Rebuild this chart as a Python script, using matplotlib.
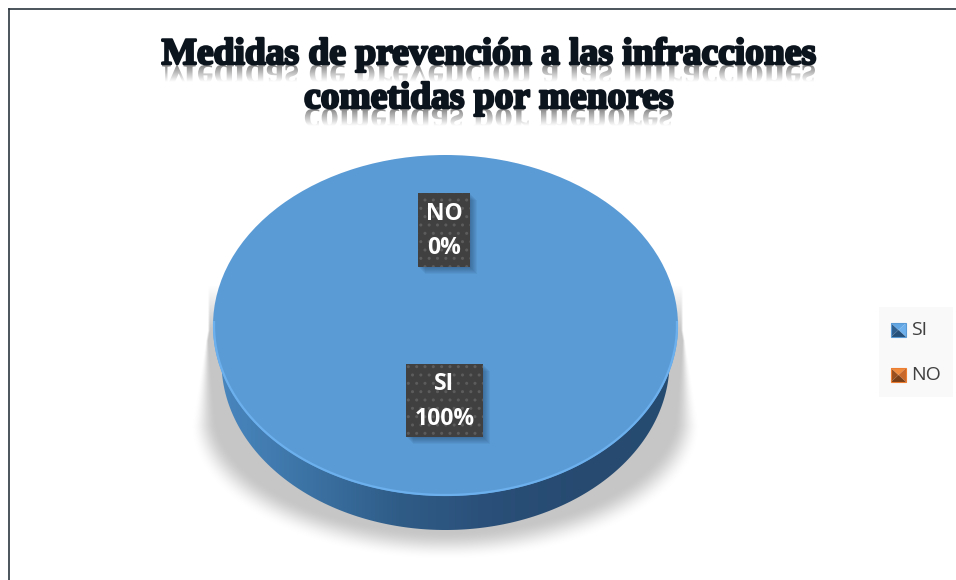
import numpy as np
import matplotlib
matplotlib.use('Agg')
import matplotlib.pyplot as plt
import matplotlib.patheffects as pe
from matplotlib.font_manager import FontProperties
from matplotlib.patches import Rectangle, Polygon, PathPatch
from matplotlib.textpath import TextPath
from matplotlib.transforms import Affine2D
from matplotlib.colors import LinearSegmentedColormap

title_lines = ['Medidas de prevención a las infracciones', 'cometidas por menores']
categories = ['SI', 'NO']
values = [100, 0]
colors = ['#5b9bd5', '#ed7d31']

W, H = 956, 580
fig = plt.figure(figsize=(W / 100, H / 100), dpi=100, facecolor='white')

# fondo en pixeles, y hacia abajo
bg = fig.add_axes([0, 0, 1, 1])
bg.set_xlim(0, W)
bg.set_ylim(H, 0)
bg.axis('off')

bg.plot([9, 9], [H, 9], color='#2c3640', lw=1.2)
bg.plot([9, W], [9, 9], color='#2c3640', lw=1.2)

# geometria del pastel
cx, cy = 445.5, 325.5
rx, ry = 232.5, 170.5

# sombra
xx, yy = np.meshgrid(np.arange(170, 720), np.arange(280, 570))
half = 238 + 16 * np.clip((yy - 330) / 95, 0, 1)
low = np.clip(yy - 425, 0, None) / 134
r = np.sqrt(((xx + 0.5 - cx) / half) ** 2 + low ** 2)
blur = 0.012 + 0.2 * np.clip((yy - 340) / 190, 0, 1)
a = np.clip((1 - r) / blur, 0, 1)
a = a * a * (3 - 2 * a)
a = a * np.clip((yy - 285) / 45, 0, 1)
shadow = np.zeros(a.shape + (4,))
shadow[..., :3] = 0.78
shadow[..., 3] = a
bg.imshow(shadow, extent=(170, 720, 570, 280), aspect='auto', zorder=1, interpolation='bilinear')
bg.set_xlim(0, W)
bg.set_ylim(H, 0)

# lateral del pastel
ang = np.linspace(0, np.pi, 200)
side_pts = np.c_[cx + 224 * np.cos(ang), 362 + 168 * np.sin(ang)]
side_cmap = LinearSegmentedColormap.from_list('side', ['#4a88c0', '#3c73a5', '#2f5c87', '#2a4f78', '#264a70', '#274c72'])
side = bg.imshow(np.linspace(0, 1, 256).reshape(1, -1), extent=(cx - rx, cx + rx, H, 0),
                 aspect='auto', cmap=side_cmap, zorder=2)
side.set_clip_path(Polygon(side_pts, closed=True, transform=bg.transData))
bg.set_xlim(0, W)
bg.set_ylim(H, 0)

# pastel
pie_ax = fig.add_axes([(cx - rx) / W, 1 - (cy + ry) / H, 2 * rx / W, 2 * ry / H])
pie_ax.pie(values, colors=colors, startangle=90, counterclock=False, radius=1,
           wedgeprops={'linewidth': 0})
pie_ax.set_aspect('auto')
pie_ax.set_xlim(-1, 1)
pie_ax.set_ylim(-1, 1)

# capa de textos
top = fig.add_axes([0, 0, 1, 1])
top.set_xlim(0, W)
top.set_ylim(H, 0)
top.axis('off')
top.patch.set_alpha(0)

rim_ang = np.linspace(-0.02, np.pi + 0.02, 200)
top.plot(cx + (rx - 1) * np.cos(rim_ang), cy + (ry - 1) * np.sin(rim_ang), color='#6cb0ee', lw=1.6, zorder=2)


def label_box(x0, y0, x1, y1, name, v):
    # sombra suave
    for k in range(1, 8):
        top.add_patch(Rectangle((x0 + k, y0 + k), x1 - x0, y1 - y0, fc='#1c3c5c', ec='none', alpha=0.07, zorder=3))
    top.add_patch(Rectangle((x0, y0), x1 - x0, y1 - y0, fc='#404040', ec='#5c5c5c', lw=0, hatch='..', zorder=4))
    top.text((x0 + x1) / 2, (y0 + y1) / 2 + 1, f'{name}\n{v}%', color='white', fontsize=16.5, fontweight='bold',
             family='Open Sans', ha='center', va='center', linespacing=1.6, zorder=5)


total = sum(values)
label_box(406, 364, 483, 437, categories[0], round(values[0] * 100 / total))
label_box(418, 193, 470, 267, categories[1], round(values[1] * 100 / total))

# leyenda
top.add_patch(Rectangle((879, 307), 74, 90, fc='#f9f9f9', ec='none', zorder=2))
shades = {'#5b9bd5': ['#2f5f8f', '#62a6e4', '#6db0ec', '#26507a'],
          '#ed7d31': ['#9a4f1c', '#f08a3c', '#c8682a', '#7a3f17']}
for cat, col, yc in zip(categories, colors, [330, 375]):
    x0, x1, y0, y1 = 891, 906, yc - 7, yc + 7
    mx, my = (x0 + x1) / 2, (y0 + y1) / 2
    sh = shades[col]
    tris = [[(x0, y0), (x0, y1), (mx, my)], [(x0, y0), (x1, y0), (mx, my)],
            [(x1, y0), (x1, y1), (mx, my)], [(x0, y1), (x1, y1), (mx, my)]]
    for tri, c in zip(tris, sh):
        top.add_patch(Polygon(tri, closed=True, fc=c, ec='none', zorder=3))
    top.add_patch(Rectangle((x0, y0), x1 - x0, y1 - y0, fc='none', ec=col, lw=0.8, zorder=3))
    top.text(911, yc, cat, color='#404040', fontsize=14, family='Open Sans', va='center', ha='left', zorder=3)

# titulo con reflejo
fp = FontProperties(family='Liberation Serif', weight='bold')
title_size = 27
lines_pos = [(488.5, 64), (488.5, 108)]
gray_cmap = LinearSegmentedColormap.from_list('refl', ['#808080', '#ffffff'])
for line, (xc, base) in zip(title_lines, lines_pos):
    tp = TextPath((0, 0), line, size=title_size * 100 / 72, prop=fp)
    ext = tp.get_extents()
    path = tp.transformed(Affine2D().translate(xc - (ext.x0 + ext.x1) / 2, base + 1))
    img = top.imshow(np.linspace(0, 1, 64).reshape(-1, 1), extent=(140, 840, base + 18, base),
                     aspect='auto', cmap=gray_cmap, zorder=6)
    img.set_clip_path(PathPatch(path, transform=top.transData))
    top.text(xc, base, line, fontsize=title_size, family='Liberation Serif', weight='bold',
             color='#0b131c', ha='center', va='baseline', zorder=7,
             path_effects=[pe.withStroke(linewidth=1.7, foreground='#0b131c')])
top.set_xlim(0, W)
top.set_ylim(H, 0)

fig.savefig('out.png', dpi=100)
